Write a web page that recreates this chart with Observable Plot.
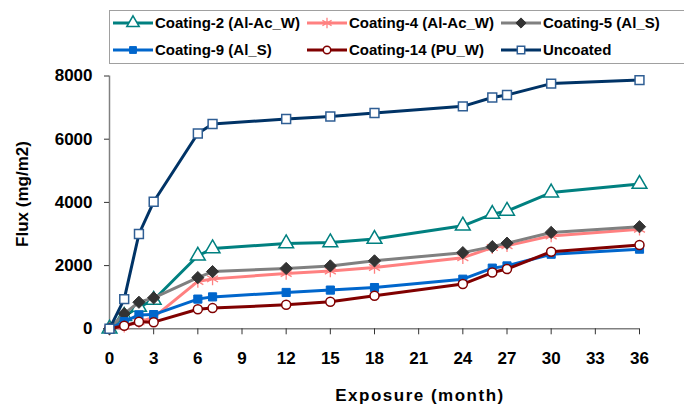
<!DOCTYPE html>
<html><head><meta charset="utf-8">
<script src="https://cdn.jsdelivr.net/npm/d3@7"></script>
<script src="https://cdn.jsdelivr.net/npm/@observablehq/plot@0.6"></script>
<style>
body{margin:0;background:#fff;overflow:hidden}
#wrap{position:relative;width:684px;height:404px;font-family:"Liberation Sans",Arial,sans-serif;overflow:hidden}
#legend{position:absolute;left:109px;top:10px;width:600px;height:54px;border:1px solid #a0a0a0;box-sizing:border-box;background:#fff}
</style></head><body><div id="wrap"><div id="chart"></div><div id="legend"></div></div>
<script>
const months    = [0, 1, 2, 3, 6, 7, 12, 15, 18, 24, 26, 27, 30, 36];
const coating2  = [0, 400, 690, 910, 2310, 2540, 2700, 2730, 2840, 3260, 3630, 3730, 4310, 4580];
const coating4  = [0, 80, 220, 360, 1500, 1580, 1750, 1830, 1940, 2250, 2570, 2630, 2940, 3150];
const coating5  = [0, 480, 840, 980, 1620, 1810, 1910, 1990, 2150, 2410, 2600, 2710, 3050, 3230];
const coating9  = [0, 230, 440, 450, 940, 1010, 1150, 1225, 1305, 1570, 1920, 1990, 2360, 2520];
const coating14 = [0, 95, 220, 210, 620, 655, 760, 855, 1045, 1415, 1780, 1890, 2440, 2650];
const uncoated  = [0, 940, 3000, 4020, 6180, 6480, 6640, 6720, 6830, 7040, 7320, 7400, 7760, 7870];
const seriesNames = ["Coating-2 (Al-Ac_W)", "Coating-4 (Al-Ac_W)", "Coating-5 (Al_S)", "Coating-9 (Al_S)", "Coating-14 (PU_W)", "Uncoated"];
const seriesValues = [coating2, coating4, coating5, coating9, coating14, uncoated];
const xTicks = [0, 3, 6, 9, 12, 15, 18, 21, 24, 27, 30, 33, 36];
const yTicks = [0, 2000, 4000, 6000, 8000];

const styles = [
  {line:"#008080", symbol:"triangle", r:5.5, fill:"#fff", stroke:"#008080", sw:1.5},
  {line:"#FF8080", symbol:"asterisk", r:6, fill:"none", stroke:"#FF8080", sw:1.3},
  {line:"#808080", symbol:"diamond2", r:5.5, fill:"#333", stroke:"#333", sw:1},
  {line:"#0066CC", symbol:"square", r:4.6, fill:"#0066CC", stroke:"#0066CC", sw:1},
  {line:"#800000", symbol:"circle", r:4.5, fill:"#fff", stroke:"#800000", sw:1.5},
  {line:"#003366", symbol:"square", r:5, fill:"#fff", stroke:"#2F5E94", sw:1.5}
];
const d3Symbols = {triangle: d3.symbolTriangle, asterisk: d3.symbolAsterisk, diamond2: d3.symbolDiamond2, square: d3.symbolSquare, circle: d3.symbolCircle};

const data = seriesNames.map((name, i) => months.map((m, j) => ({series: name, month: m, flux: seriesValues[i][j]})));

const marks = [
  Plot.ruleX([0], {stroke:"#808080", strokeWidth:1.5}),
  Plot.ruleY([0], {stroke:"#808080", strokeWidth:1.5}),
  Plot.axisX({ticks: xTicks, tickSize: 6, tickPadding: 17, fontSize: 17, fontWeight: "bold", stroke: "#333", label: null, tickFormat: d => String(d)}),
  Plot.axisY({ticks: yTicks, tickSize: 5, tickPadding: 12, fontSize: 17, fontWeight: "bold", stroke: "#333", label: null, tickFormat: d => String(d)})
];
data.forEach((d, i) => {
  const s = styles[i];
  marks.push(Plot.line(d, {x: "month", y: "flux", stroke: s.line, strokeWidth: 3, curve: "linear"}));
  marks.push(Plot.dot(d, {x: "month", y: "flux", symbol: () => s.symbol, r: s.r, fill: s.fill, stroke: s.stroke, strokeWidth: s.sw}));
});

const chart = Plot.plot({
  width: 684, height: 404,
  marginLeft: 109, marginRight: 45, marginTop: 75.5, marginBottom: 75.7,
  x: {domain: [0, 36]},
  y: {domain: [0, 8000]},
  symbol: {type: "identity"},
  style: {fontFamily: "'Liberation Sans', Arial, sans-serif", color: "#000", background: "#fff"},
  marks
});
document.getElementById("chart").appendChild(chart);

const svg = d3.select(chart);
svg.append("text").attr("x", 420).attr("y", 401).attr("text-anchor", "middle")
  .attr("font-size", 17).attr("font-weight", "bold").attr("letter-spacing", "1.5px").attr("fill", "#000")
  .text("Exposure (month)");
svg.append("text").attr("transform", "translate(28,194) rotate(-90)").attr("text-anchor", "middle")
  .attr("font-size", 17).attr("font-weight", "bold").attr("fill", "#000")
  .text("Flux (mg/m2)");

// legend
const lg = d3.select("#legend").append("svg").attr("width", 600).attr("height", 54)
  .style("position", "absolute").style("left", "-1px").style("top", "-1px");
const cols = [4, 198, 392], rows = [13, 40];
seriesNames.forEach((name, i) => {
  const s = styles[i];
  const gx = cols[i % 3], gy = rows[Math.floor(i / 3)];
  const g = lg.append("g").attr("transform", `translate(${gx},${gy})`);
  g.append("line").attr("x1", 0).attr("x2", 40).attr("y1", 0).attr("y2", 0).attr("stroke", s.line).attr("stroke-width", 3);
  const sym = d3.symbol(d3Symbols[s.symbol], Math.PI * s.r * s.r * 0.7);
  g.append("path").attr("d", sym()).attr("transform", "translate(20,0)")
    .attr("fill", s.fill).attr("stroke", s.stroke).attr("stroke-width", s.sw);
  g.append("text").attr("x", 42).attr("y", 0).attr("dy", "0.35em").attr("font-size", 15).attr("font-weight", "bold")
    .attr("font-family", "'Liberation Sans', Arial, sans-serif").attr("fill", "#000").text(name);
});
</script></body></html>
